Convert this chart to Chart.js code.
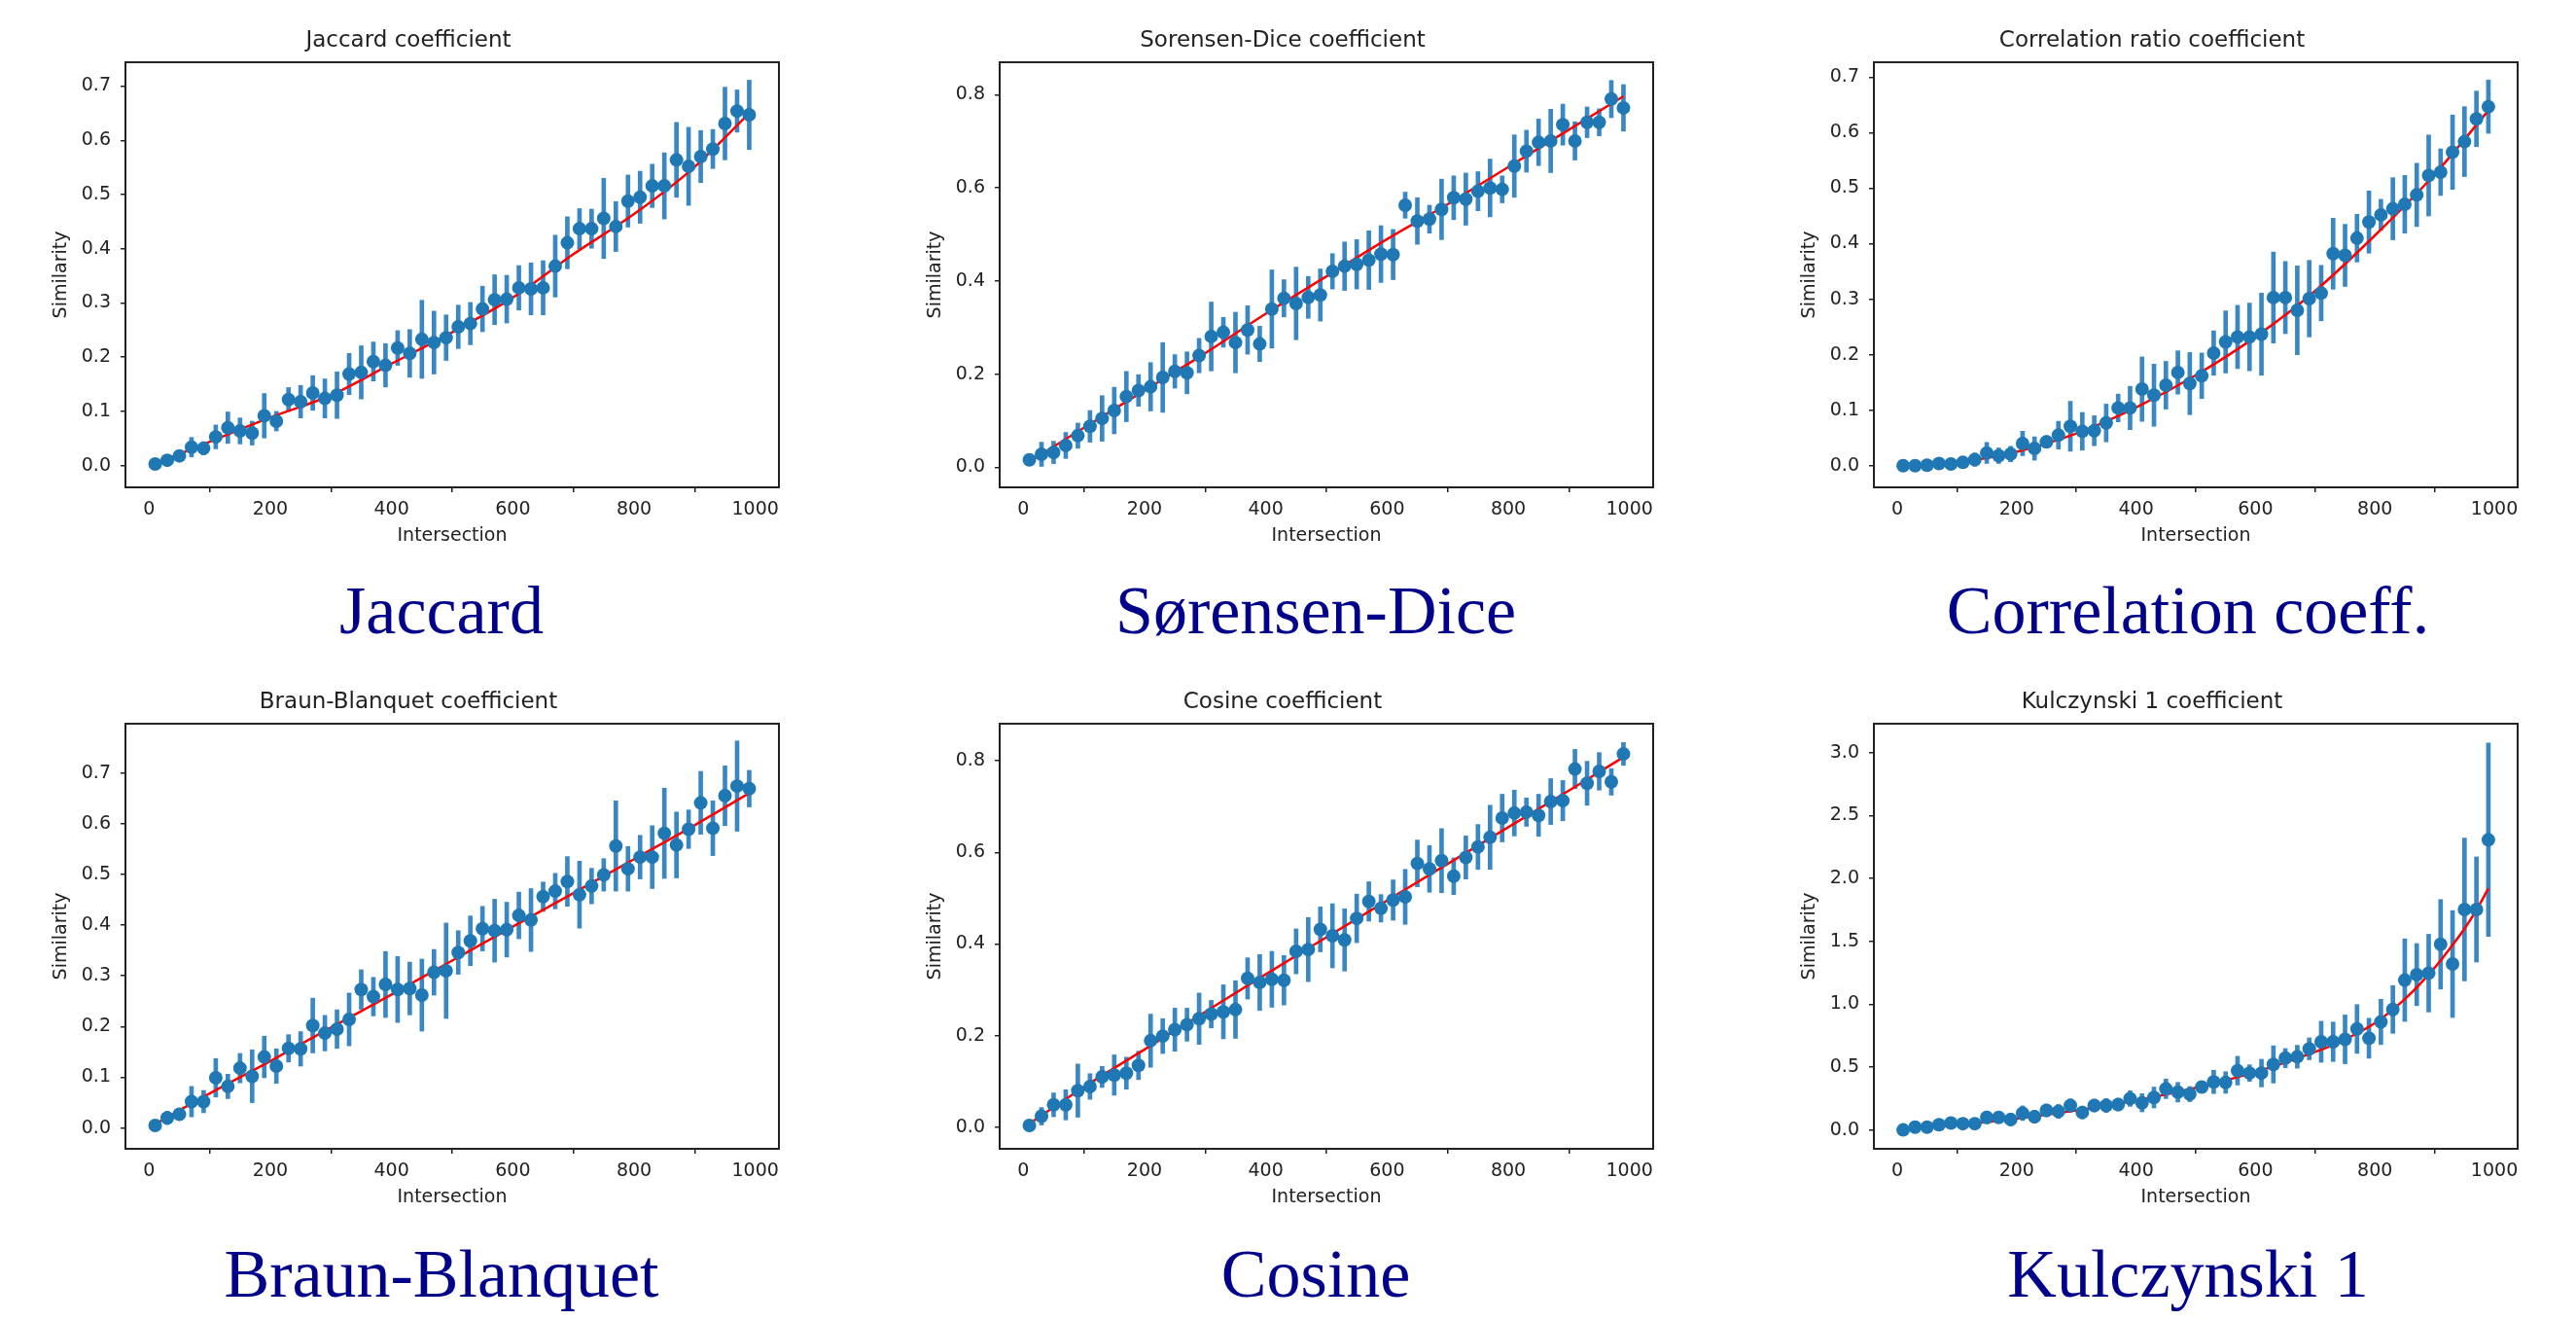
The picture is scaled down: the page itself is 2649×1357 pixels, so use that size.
<!DOCTYPE html>
<html>
<head>
<meta charset="utf-8">
<script src="https://cdn.jsdelivr.net/npm/chart.js@4.4.1/dist/chart.umd.min.js"></script>
<style>
html, body { margin: 0; padding: 0; background: #fff; }
body { width: 2649px; height: 1357px; position: relative; overflow: hidden; }
.wrap { position: absolute; }
.cap {
    position: absolute; width: 800px; text-align: center;
    font-family: "Liberation Serif", serif; font-size: 70px; line-height: 70px;
    color: #00008b; white-space: nowrap;
}
</style>
</head>
<body>
<script>
const intersection = [10, 30, 50, 70, 90, 110, 130, 150, 170, 190, 210, 230, 250, 270, 290, 310, 330, 350, 370, 390,
    410, 430, 450, 470, 490, 510, 530, 550, 570, 590, 610, 630, 650, 670, 690, 710, 730, 750, 770, 790,
    810, 830, 850, 870, 890, 910, 930, 950, 970, 990];

const jaccardMean = [0.003, 0.01, 0.018, 0.034, 0.032, 0.053, 0.07, 0.064, 0.06, 0.092, 0.082, 0.122, 0.118, 0.134, 0.124, 0.13, 0.169, 0.172, 0.192, 0.185,
    0.217, 0.207, 0.233, 0.227, 0.236, 0.256, 0.262, 0.289, 0.306, 0.307, 0.328, 0.326, 0.328, 0.368, 0.411, 0.437, 0.437, 0.456, 0.441, 0.488,
    0.495, 0.516, 0.516, 0.564, 0.552, 0.57, 0.584, 0.631, 0.654, 0.647];
const jaccardErr = [0.005, 0.006, 0.008, 0.018, 0.012, 0.022, 0.029, 0.024, 0.022, 0.041, 0.018, 0.022, 0.03, 0.032, 0.036, 0.043, 0.038, 0.049, 0.036, 0.04,
    0.032, 0.044, 0.072, 0.058, 0.042, 0.04, 0.039, 0.042, 0.046, 0.044, 0.041, 0.048, 0.05, 0.057, 0.048, 0.037, 0.036, 0.074, 0.046, 0.048,
    0.048, 0.04, 0.061, 0.069, 0.072, 0.048, 0.036, 0.067, 0.039, 0.064];

const diceMean = [0.016, 0.028, 0.032, 0.047, 0.068, 0.088, 0.105, 0.122, 0.152, 0.165, 0.173, 0.193, 0.206, 0.203, 0.24, 0.281, 0.29, 0.268, 0.295, 0.265,
    0.34, 0.363, 0.352, 0.365, 0.37, 0.421, 0.432, 0.436, 0.445, 0.458, 0.457, 0.563, 0.529, 0.533, 0.554, 0.579, 0.576, 0.593, 0.6, 0.597,
    0.647, 0.679, 0.698, 0.701, 0.736, 0.701, 0.741, 0.741, 0.791, 0.772];
const diceErr = [0.012, 0.026, 0.024, 0.028, 0.027, 0.034, 0.049, 0.05, 0.054, 0.034, 0.052, 0.075, 0.036, 0.045, 0.037, 0.074, 0.032, 0.065, 0.052, 0.038,
    0.084, 0.04, 0.078, 0.045, 0.056, 0.038, 0.052, 0.053, 0.063, 0.061, 0.054, 0.028, 0.05, 0.03, 0.065, 0.047, 0.056, 0.042, 0.062, 0.029,
    0.067, 0.045, 0.05, 0.068, 0.044, 0.041, 0.033, 0.029, 0.04, 0.05];

const corrMean = [0.0, 0.0, 0.001, 0.004, 0.003, 0.006, 0.011, 0.023, 0.018, 0.021, 0.04, 0.031, 0.043, 0.055, 0.071, 0.062, 0.063, 0.077, 0.104, 0.104,
    0.138, 0.127, 0.145, 0.168, 0.148, 0.162, 0.203, 0.223, 0.232, 0.232, 0.237, 0.303, 0.303, 0.28, 0.301, 0.311, 0.382, 0.379, 0.41, 0.439,
    0.452, 0.463, 0.471, 0.488, 0.523, 0.529, 0.565, 0.584, 0.625, 0.647];
const corrErr = [0.003, 0.003, 0.003, 0.005, 0.004, 0.006, 0.012, 0.019, 0.014, 0.014, 0.022, 0.021, 0.011, 0.025, 0.045, 0.034, 0.027, 0.034, 0.025, 0.039,
    0.058, 0.056, 0.043, 0.039, 0.056, 0.041, 0.04, 0.056, 0.057, 0.061, 0.074, 0.082, 0.065, 0.08, 0.069, 0.05, 0.064, 0.056, 0.043, 0.056,
    0.028, 0.056, 0.052, 0.057, 0.073, 0.042, 0.067, 0.063, 0.05, 0.048];

const braunMean = [0.005, 0.02, 0.027, 0.052, 0.052, 0.099, 0.082, 0.118, 0.102, 0.14, 0.122, 0.157, 0.156, 0.202, 0.187, 0.195, 0.214, 0.273, 0.259, 0.283,
    0.273, 0.275, 0.262, 0.307, 0.31, 0.346, 0.369, 0.393, 0.389, 0.391, 0.419, 0.41, 0.456, 0.467, 0.486, 0.46, 0.477, 0.499, 0.556, 0.511,
    0.534, 0.534, 0.581, 0.558, 0.589, 0.641, 0.591, 0.655, 0.674, 0.669];
const braunErr = [0.005, 0.013, 0.012, 0.03, 0.022, 0.038, 0.024, 0.029, 0.052, 0.041, 0.034, 0.027, 0.034, 0.054, 0.035, 0.038, 0.052, 0.039, 0.038, 0.065,
    0.065, 0.052, 0.071, 0.045, 0.094, 0.043, 0.049, 0.044, 0.062, 0.054, 0.046, 0.062, 0.029, 0.035, 0.049, 0.066, 0.035, 0.032, 0.089, 0.044,
    0.043, 0.062, 0.089, 0.065, 0.038, 0.062, 0.054, 0.059, 0.089, 0.036];

const cosineMean = [0.004, 0.024, 0.049, 0.049, 0.08, 0.089, 0.11, 0.114, 0.118, 0.135, 0.189, 0.199, 0.213, 0.224, 0.237, 0.247, 0.252, 0.257, 0.325, 0.316,
    0.323, 0.321, 0.384, 0.388, 0.432, 0.418, 0.409, 0.456, 0.493, 0.478, 0.496, 0.503, 0.576, 0.564, 0.582, 0.548, 0.589, 0.612, 0.633, 0.675,
    0.686, 0.688, 0.681, 0.711, 0.713, 0.782, 0.751, 0.777, 0.754, 0.815];
const cosineErr = [0.005, 0.019, 0.026, 0.033, 0.058, 0.028, 0.023, 0.044, 0.035, 0.031, 0.058, 0.038, 0.047, 0.036, 0.056, 0.03, 0.059, 0.063, 0.045, 0.061,
    0.061, 0.054, 0.049, 0.07, 0.049, 0.07, 0.068, 0.053, 0.043, 0.03, 0.044, 0.06, 0.051, 0.051, 0.07, 0.04, 0.047, 0.049, 0.07, 0.052,
    0.05, 0.031, 0.046, 0.05, 0.044, 0.043, 0.048, 0.041, 0.029, 0.025];

const kulczMean = [0.0, 0.022, 0.022, 0.042, 0.055, 0.05, 0.05, 0.1, 0.1, 0.083, 0.133, 0.105, 0.155, 0.147, 0.194, 0.139, 0.194, 0.194, 0.202, 0.249,
    0.216, 0.258, 0.327, 0.3, 0.285, 0.341, 0.382, 0.377, 0.471, 0.452, 0.452, 0.521, 0.571, 0.582, 0.645, 0.701, 0.701, 0.72, 0.803, 0.729,
    0.859, 0.958, 1.191, 1.235, 1.247, 1.476, 1.319, 1.753, 1.753, 2.307];
const kulczErr = [0.01, 0.015, 0.02, 0.02, 0.02, 0.025, 0.03, 0.05, 0.04, 0.05, 0.058, 0.05, 0.05, 0.055, 0.053, 0.05, 0.05, 0.055, 0.05, 0.062,
    0.072, 0.083, 0.078, 0.078, 0.06, 0.047, 0.093, 0.086, 0.114, 0.066, 0.11, 0.148, 0.076, 0.091, 0.087, 0.163, 0.157, 0.194, 0.194, 0.159,
    0.18, 0.19, 0.328, 0.247, 0.309, 0.356, 0.425, 0.568, 0.418, 0.769];

const fitX = [10, 100, 200, 300, 400, 500, 600, 700, 800, 900, 990];
const jaccardFit = [0.003, 0.044, 0.089, 0.13, 0.188, 0.246, 0.31, 0.39, 0.464, 0.551, 0.65];
const diceFit = [0.012, 0.085, 0.165, 0.245, 0.33, 0.41, 0.49, 0.565, 0.645, 0.725, 0.797];
const corrFit = [0.0, 0.006, 0.025, 0.058, 0.105, 0.163, 0.232, 0.315, 0.415, 0.525, 0.64];
const braunFit = [0.008, 0.068, 0.132, 0.198, 0.263, 0.33, 0.397, 0.463, 0.53, 0.597, 0.66];
const cosineFit = [0.008, 0.088, 0.17, 0.252, 0.334, 0.415, 0.495, 0.575, 0.655, 0.735, 0.808];
const kulczFitX = [10, 100, 200, 300, 400, 500, 600, 700, 750, 800, 850, 900, 925, 950, 970, 990];
const kulczFit = [0.005, 0.04, 0.09, 0.155, 0.235, 0.335, 0.46, 0.62, 0.72, 0.85, 1.04, 1.29, 1.44, 1.6, 1.75, 1.92];

const titles = ['Jaccard coefficient', 'Sorensen-Dice coefficient', 'Correlation ratio coefficient',
    'Braun-Blanquet coefficient', 'Cosine coefficient', 'Kulczynski 1 coefficient'];
const captions = ['Jaccard', 'Sørensen-Dice', 'Correlation coeff.', 'Braun-Blanquet', 'Cosine', 'Kulczynski 1'];

const panels = [
    { mean: jaccardMean, err: jaccardErr, fx: fitX, fit: jaccardFit, yMin: -0.04, yMax: 0.744, step: 0.1, frame: { l: 129, r: 801, t: 64, b: 501 } },
    { mean: diceMean, err: diceErr, fx: fitX, fit: diceFit, yMin: -0.043, yMax: 0.87, step: 0.2, frame: { l: 1028, r: 1700, t: 64, b: 501 } },
    { mean: corrMean, err: corrErr, fx: fitX, fit: corrFit, yMin: -0.039, yMax: 0.727, step: 0.1, frame: { l: 1927, r: 2589, t: 64, b: 501 } },
    { mean: braunMean, err: braunErr, fx: fitX, fit: braunFit, yMin: -0.041, yMax: 0.797, step: 0.1, frame: { l: 129, r: 801, t: 744, b: 1181 } },
    { mean: cosineMean, err: cosineErr, fx: fitX, fit: cosineFit, yMin: -0.047, yMax: 0.881, step: 0.2, frame: { l: 1028, r: 1700, t: 744, b: 1181 } },
    { mean: kulczMean, err: kulczErr, fx: kulczFitX, fit: kulczFit, yMin: -0.15, yMax: 3.23, step: 0.5, frame: { l: 1927, r: 2589, t: 744, b: 1181 } }
];

const capCenters = [454, 1353, 2250];
const capTops = [593, 1275];

const ink = '#222';
const tickFont = { family: 'DejaVu Sans', size: 19 };

const framePlugin = {
    id: 'frame',
    afterDatasetsDraw(chart) {
        const { ctx, chartArea: { left, top, right, bottom } } = chart;
        ctx.save();
        ctx.strokeStyle = ink;
        ctx.lineWidth = 2;
        ctx.strokeRect(left, top, right - left, bottom - top);
        ctx.restore();
    }
};

const makeChart = (p, title) => {
    const yAxisW = 90, rightPad = 30, titleH = 50, xAxisH = 72, bottomPad = 5;
    const W = p.frame.r - p.frame.l + yAxisW + rightPad;
    const H = titleH + (p.frame.b - p.frame.t) + xAxisH + bottomPad;

    const wrap = document.createElement('div');
    wrap.className = 'wrap';
    wrap.style.left = (p.frame.l - yAxisW) + 'px';
    wrap.style.top = (p.frame.t - titleH) + 'px';
    const canvas = document.createElement('canvas');
    canvas.width = W;
    canvas.height = H;
    wrap.appendChild(canvas);
    document.body.appendChild(wrap);

    const grid = { display: true, drawOnChartArea: false, drawTicks: true, tickLength: 5, color: ink, lineWidth: 1.5 };

    new Chart(canvas, {
        type: 'scatter',
        data: {
            datasets: [
                {
                    type: 'bar',
                    data: intersection.map((x, i) => ({ x: x, y: [p.mean[i] - p.err[i], p.mean[i] + p.err[i]] })),
                    backgroundColor: '#3a88c3',
                    barThickness: 4,
                    order: 3
                },
                {
                    type: 'line',
                    data: p.fx.map((x, i) => ({ x: x, y: p.fit[i] })),
                    borderColor: '#ff0000',
                    borderWidth: 2.5,
                    pointRadius: 0,
                    fill: false,
                    cubicInterpolationMode: 'monotone',
                    order: 2
                },
                {
                    type: 'scatter',
                    data: intersection.map((x, i) => ({ x: x, y: p.mean[i] })),
                    backgroundColor: '#1f77b4',
                    borderWidth: 0,
                    pointRadius: 7,
                    order: 1
                }
            ]
        },
        options: {
            responsive: false,
            animation: false,
            events: [],
            layout: { padding: { left: 0, right: rightPad, top: 0, bottom: bottomPad } },
            plugins: {
                legend: { display: false },
                tooltip: { enabled: false },
                title: {
                    display: true, text: title, color: ink,
                    font: { family: 'DejaVu Sans', size: 23, weight: 'normal' },
                    padding: { top: 14.2, bottom: 8.2 }
                }
            },
            scales: {
                x: {
                    type: 'linear', min: -39, max: 1039, offset: false,
                    grid: grid,
                    border: { display: false },
                    ticks: {
                        stepSize: 200, includeBounds: false, padding: 6.6, color: ink, font: tickFont,
                        maxRotation: 0, autoSkip: false, callback: v => String(v)
                    },
                    title: { display: true, text: 'Intersection', color: ink, font: tickFont, padding: { top: 0, bottom: 10.6 } },
                    afterFit: s => { s.height = xAxisH; }
                },
                y: {
                    type: 'linear', min: p.yMin, max: p.yMax,
                    grid: grid,
                    border: { display: false },
                    ticks: {
                        stepSize: p.step, includeBounds: false, padding: 10, color: ink, font: tickFont,
                        autoSkip: false, callback: v => v.toFixed(1)
                    },
                    title: { display: true, text: 'Similarity', color: ink, font: tickFont, padding: { top: 13.1, bottom: 0 } },
                    afterFit: s => { s.width = yAxisW; }
                }
            }
        },
        plugins: [framePlugin]
    });
};

panels.forEach((p, i) => makeChart(p, titles[i]));

captions.forEach((text, i) => {
    const cap = document.createElement('div');
    cap.className = 'cap';
    cap.textContent = text;
    cap.style.left = (capCenters[i % 3] - 400) + 'px';
    cap.style.top = capTops[Math.floor(i / 3)] + 'px';
    document.body.appendChild(cap);
});
</script>
</body>
</html>
